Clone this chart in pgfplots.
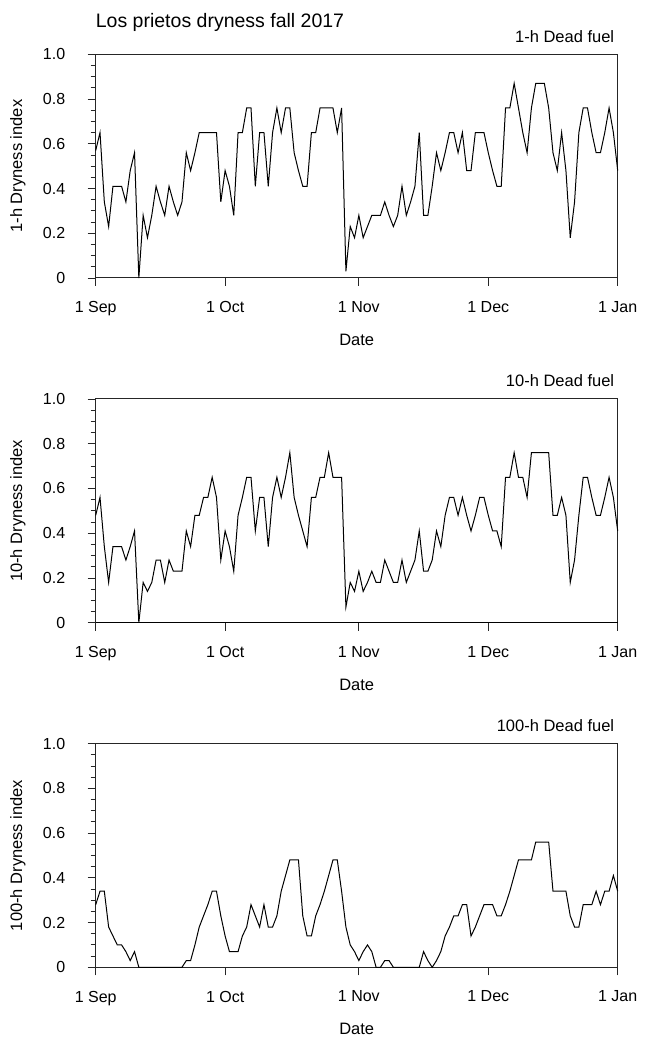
\documentclass[border=0pt]{standalone}
\usepackage{fontspec}
\setmainfont{Liberation Sans}
\usepackage{pgfplots}
\usepackage{pgfplotstable}
\pgfplotsset{compat=1.18}

% day 0 = 1 Sep 2017
\pgfplotstableread{
d v
0 0.57
1 0.65
2 0.34
3 0.23
4 0.41
5 0.41
6 0.41
7 0.34
8 0.48
9 0.56
10 0
11 0.28
12 0.18
13 0.28
14 0.41
15 0.34
16 0.28
17 0.41
18 0.34
19 0.28
20 0.34
21 0.56
22 0.48
23 0.56
24 0.65
25 0.65
26 0.65
27 0.65
28 0.65
29 0.34
30 0.48
31 0.41
32 0.28
33 0.65
34 0.65
35 0.76
36 0.76
37 0.41
38 0.65
39 0.65
40 0.41
41 0.65
42 0.76
43 0.65
44 0.76
45 0.76
46 0.56
47 0.48
48 0.41
49 0.41
50 0.65
51 0.65
52 0.76
53 0.76
54 0.76
55 0.76
56 0.65
57 0.76
58 0.03
59 0.23
60 0.18
61 0.28
62 0.18
63 0.23
64 0.28
65 0.28
66 0.28
67 0.34
68 0.28
69 0.23
70 0.28
71 0.41
72 0.28
73 0.34
74 0.41
75 0.65
76 0.28
77 0.28
78 0.41
79 0.56
80 0.48
81 0.56
82 0.65
83 0.65
84 0.56
85 0.65
86 0.48
87 0.48
88 0.65
89 0.65
90 0.65
91 0.56
92 0.48
93 0.41
94 0.41
95 0.76
96 0.76
97 0.87
98 0.76
99 0.65
100 0.56
101 0.76
102 0.87
103 0.87
104 0.87
105 0.76
106 0.56
107 0.48
108 0.65
109 0.48
110 0.18
111 0.34
112 0.65
113 0.76
114 0.76
115 0.65
116 0.56
117 0.56
118 0.65
119 0.76
120 0.65
121 0.48
}\onehour

\pgfplotstableread{
d v
0 0.48
1 0.56
2 0.34
3 0.18
4 0.34
5 0.34
6 0.34
7 0.28
8 0.34
9 0.41
10 0
11 0.18
12 0.14
13 0.18
14 0.28
15 0.28
16 0.18
17 0.28
18 0.23
19 0.23
20 0.23
21 0.41
22 0.34
23 0.48
24 0.48
25 0.56
26 0.56
27 0.65
28 0.56
29 0.28
30 0.41
31 0.34
32 0.23
33 0.48
34 0.56
35 0.65
36 0.65
37 0.41
38 0.56
39 0.56
40 0.34
41 0.56
42 0.65
43 0.56
44 0.65
45 0.76
46 0.56
47 0.48
48 0.41
49 0.34
50 0.56
51 0.56
52 0.65
53 0.65
54 0.76
55 0.65
56 0.65
57 0.65
58 0.07
59 0.18
60 0.14
61 0.23
62 0.14
63 0.18
64 0.23
65 0.18
66 0.18
67 0.28
68 0.23
69 0.18
70 0.18
71 0.28
72 0.18
73 0.23
74 0.28
75 0.41
76 0.23
77 0.23
78 0.28
79 0.41
80 0.34
81 0.48
82 0.56
83 0.56
84 0.48
85 0.56
86 0.48
87 0.41
88 0.48
89 0.56
90 0.56
91 0.48
92 0.41
93 0.41
94 0.34
95 0.65
96 0.65
97 0.76
98 0.65
99 0.65
100 0.56
101 0.76
102 0.76
103 0.76
104 0.76
105 0.76
106 0.48
107 0.48
108 0.56
109 0.48
110 0.18
111 0.28
112 0.48
113 0.65
114 0.65
115 0.56
116 0.48
117 0.48
118 0.56
119 0.65
120 0.56
121 0.41
}\tenhour

\pgfplotstableread{
d v
0 0.28
1 0.34
2 0.34
3 0.18
4 0.14
5 0.10
6 0.10
7 0.07
8 0.03
9 0.07
10 0
11 0
12 0
13 0
14 0
15 0
16 0
17 0
18 0
19 0
20 0
21 0.03
22 0.03
23 0.10
24 0.18
25 0.23
26 0.28
27 0.34
28 0.34
29 0.23
30 0.14
31 0.07
32 0.07
33 0.07
34 0.14
35 0.18
36 0.28
37 0.23
38 0.18
39 0.28
40 0.18
41 0.18
42 0.23
43 0.34
44 0.41
45 0.48
46 0.48
47 0.48
48 0.23
49 0.14
50 0.14
51 0.23
52 0.28
53 0.34
54 0.41
55 0.48
56 0.48
57 0.34
58 0.18
59 0.10
60 0.07
61 0.03
62 0.07
63 0.10
64 0.07
65 0
66 0
67 0.03
68 0.03
69 0
70 0
71 0
72 0
73 0
74 0
75 0
76 0.07
77 0.03
78 0
79 0.03
80 0.07
81 0.14
82 0.18
83 0.23
84 0.23
85 0.28
86 0.28
87 0.14
88 0.18
89 0.23
90 0.28
91 0.28
92 0.28
93 0.23
94 0.23
95 0.28
96 0.34
97 0.41
98 0.48
99 0.48
100 0.48
101 0.48
102 0.56
103 0.56
104 0.56
105 0.56
106 0.34
107 0.34
108 0.34
109 0.34
110 0.23
111 0.18
112 0.18
113 0.28
114 0.28
115 0.28
116 0.34
117 0.28
118 0.34
119 0.34
120 0.41
121 0.34
}\hundredhour

\begin{document}
\begin{tikzpicture}
\path[use as bounding box] (0pt,0pt) rectangle (647pt,1038pt);
\pgfplotsset{
  panel/.style={
    scale only axis, width=522pt, height=223.7pt,
    anchor=south west,
    xmin=0, xmax=121, ymin=0, ymax=1,
    xtick={0,30,61,91,121},
    xticklabels={1 Sep,1 Oct,1 Nov,1 Dec,1 Jan},
    ytick={0,0.2,0.4,0.6,0.8,1},
    yticklabels={0,0.2,0.4,0.6,0.8,1.0},
    minor y tick num=3,
    tick align=outside, xtick pos=bottom, ytick pos=left,
    major tick length=8pt, minor tick length=5pt,
    axis line style={line width=1pt, black!85},
    tick style={line width=0.9pt, black!85},
    tick label style={font=\fontsize{16}{19}\selectfont},
    xticklabel style={yshift=-12pt},
    yticklabel style={xshift=-19pt},
    label style={font=\fontsize{16.5}{19}\selectfont},
    title style={font=\fontsize{16.5}{19}\selectfont, at={(rel axis cs:1,1)}, anchor=base east, yshift=6pt},
    xlabel={Date},
    xlabel style={at={(rel axis cs:0.5,-0.277)}, anchor=center},
    ylabel style={at={(rel axis cs:-0.149,0.5)}, anchor=center},
    /pgf/number format/assume math mode=true,
    clip=false,
  }
}
\begin{axis}[panel, at={(95.7pt,760.0pt)}, title={1-h Dead fuel}, ylabel={1-h Dryness index}]
\addplot[black, line width=1pt] table[x=d, y=v] {\onehour};
\node[anchor=base west, inner xsep=0pt, font=\fontsize{19.5}{22}\selectfont] at ([yshift=27pt]rel axis cs:0,1) {Los prietos dryness fall 2017};
\end{axis}
\begin{axis}[panel, at={(95.7pt,415.3pt)}, title={10-h Dead fuel}, ylabel={10-h Dryness index}]
\addplot[black, line width=1.6pt] coordinates {(0,0) (121,0)};
\addplot[black, line width=1pt] table[x=d, y=v] {\tenhour};
\end{axis}
\begin{axis}[panel, at={(95.7pt,70.7pt)}, title={100-h Dead fuel}, ylabel={100-h Dryness index}]
\addplot[black, line width=1pt] table[x=d, y=v] {\hundredhour};
\end{axis}
\end{tikzpicture}
\end{document}
